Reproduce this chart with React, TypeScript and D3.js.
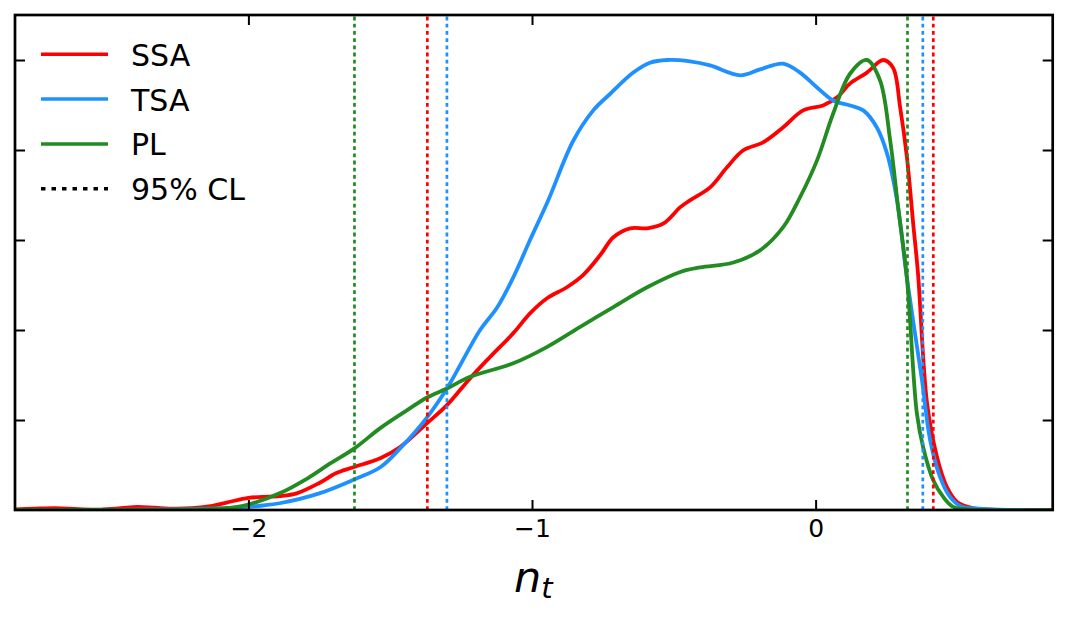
import { useEffect, useRef } from "react";
import * as d3 from "d3";

// SSA posterior (red)
const ssaX = [-2.83, -2.75, -2.68, -2.6, -2.52, -2.45, -2.39, -2.33, -2.26, -2.2, -2.14, -2.08, -2.0, -1.95, -1.89, -1.83, -1.75, -1.69, -1.63, -1.535, -1.465, -1.37, -1.3, -1.218, -1.148, -1.066, -1.007, -0.948, -0.877, -0.82, -0.76, -0.713, -0.654, -0.594, -0.536, -0.477, -0.443, -0.372, -0.313, -0.256, -0.185, -0.115, -0.044, 0.026, 0.076, 0.122, 0.181, 0.238, 0.273, 0.298, 0.322, 0.344, 0.361, 0.393, 0.428, 0.463, 0.499, 0.55, 0.62, 0.84];
const ssaY = [0.001, 0.003, 0.004, 0.002, 0.001, 0.004, 0.007, 0.005, 0.003, 0.004, 0.008, 0.016, 0.027, 0.029, 0.031, 0.037, 0.06, 0.082, 0.095, 0.115, 0.14, 0.193, 0.233, 0.293, 0.34, 0.393, 0.437, 0.47, 0.495, 0.522, 0.566, 0.606, 0.626, 0.626, 0.637, 0.673, 0.688, 0.717, 0.761, 0.799, 0.817, 0.85, 0.888, 0.899, 0.917, 0.948, 0.972, 1.0, 0.983, 0.895, 0.784, 0.637, 0.526, 0.237, 0.118, 0.051, 0.018, 0.005, 0.001, 0];

// TSA posterior (blue)
const tsaX = [-2.83, -2.4, -2.2, -2.05, -1.95, -1.89, -1.75, -1.63, -1.535, -1.465, -1.37, -1.3, -1.183, -1.123, -1.066, -1.007, -0.943, -0.855, -0.784, -0.724, -0.643, -0.584, -0.524, -0.443, -0.372, -0.266, -0.196, -0.115, -0.055, 0.005, 0.062, 0.122, 0.168, 0.216, 0.252, 0.287, 0.322, 0.375, 0.404, 0.439, 0.474, 0.51, 0.6, 0.84];
const tsaY = [0, 0.001, 0.002, 0.005, 0.01, 0.015, 0.037, 0.067, 0.095, 0.137, 0.206, 0.27, 0.4, 0.45, 0.517, 0.6, 0.688, 0.82, 0.888, 0.925, 0.972, 0.994, 1.0, 0.997, 0.988, 0.966, 0.979, 0.992, 0.972, 0.939, 0.91, 0.899, 0.888, 0.85, 0.792, 0.688, 0.515, 0.289, 0.155, 0.073, 0.029, 0.009, 0.002, 0];

// PL posterior (green)
const plX = [-2.83, -2.3, -2.15, -2.05, -2.0, -1.89, -1.79, -1.71, -1.626, -1.535, -1.44, -1.37, -1.3, -1.218, -1.066, -0.948, -0.83, -0.713, -0.594, -0.477, -0.407, -0.29, -0.196, -0.115, -0.055, 0.005, 0.062, 0.122, 0.181, 0.227, 0.263, 0.291, 0.322, 0.357, 0.379, 0.414, 0.45, 0.485, 0.55, 0.84];
const plY = [0, 0.0005, 0.002, 0.006, 0.012, 0.037, 0.071, 0.104, 0.137, 0.182, 0.222, 0.25, 0.27, 0.296, 0.326, 0.362, 0.407, 0.451, 0.495, 0.529, 0.539, 0.55, 0.577, 0.628, 0.695, 0.777, 0.881, 0.97, 1.0, 0.955, 0.821, 0.673, 0.515, 0.215, 0.14, 0.067, 0.029, 0.007, 0.001, 0];

// 95% CL bounds [lower, upper]
const ssaCL = [-1.369, 0.415];
const tsaCL = [-1.3, 0.378];
const plCL = [-1.626, 0.324];

const xTicks = [-2, -1, 0];
const yTicks = [0.2, 0.4, 0.6, 0.8, 1.0];

const series = [
  { name: "SSA", xs: ssaX, ys: ssaY, cl: ssaCL, color: "#ff0000" },
  { name: "TSA", xs: tsaX, ys: tsaY, cl: tsaCL, color: "#1e90ff" },
  { name: "PL", xs: plX, ys: plY, cl: plCL, color: "#228b22" },
];

const W = 1067;
const H = 617;
const margin = { left: 15, right: 14.3, top: 15, bottom: 107 };

export default function App() {
  const svgRef = useRef<SVGSVGElement>(null);

  useEffect(() => {
    const svg = d3.select(svgRef.current);
    svg.selectAll("*").remove();

    const x = d3
      .scaleLinear()
      .domain([-2.823, 0.836])
      .range([margin.left, W - margin.right]);
    const y = d3
      .scaleLinear()
      .domain([0, 1.1])
      .range([H - margin.bottom, margin.top]);

    const line = d3
      .line<[number, number]>()
      .x((d) => x(d[0]))
      .y((d) => Math.min(y(0), y(d[1])))
      .curve(d3.curveCatmullRom.alpha(0.5));

    // clip curves to the axes box
    svg
      .append("clipPath")
      .attr("id", "plotclip")
      .append("rect")
      .attr("x", margin.left)
      .attr("y", margin.top)
      .attr("width", W - margin.left - margin.right)
      .attr("height", H - margin.top - margin.bottom);

    const plot = svg.append("g").attr("clip-path", "url(#plotclip)");

    // curves
    series.forEach((s) => {
      const pts: [number, number][] = s.xs.map((v, i) => [v, s.ys[i]]);
      plot
        .append("path")
        .attr("d", line(pts)!)
        .attr("fill", "none")
        .attr("stroke", s.color)
        .attr("stroke-width", 3.8)
        .attr("stroke-linejoin", "round");
    });

    // 95% CL dotted lines
    series.forEach((s) => {
      s.cl.forEach((v) => {
        plot
          .append("line")
          .attr("x1", x(v))
          .attr("x2", x(v))
          .attr("y1", y.range()[0])
          .attr("y2", y.range()[1])
          .attr("stroke", s.color)
          .attr("stroke-width", 2.7)
          .attr("stroke-dasharray", "3.8 3.4");
      });
    });

    // axes (inward ticks)
    const fontFam = "'DejaVu Sans', sans-serif";
    const bottom = svg
      .append("g")
      .attr("transform", `translate(0,${y(0)})`)
      .call(
        d3.axisBottom(x).tickValues(xTicks).tickSize(-10).tickPadding(9).tickFormat(d3.format("d"))
      );
    bottom.selectAll("text").attr("font-size", 25).attr("font-family", fontFam).attr("fill", "#000");

    const top = svg
      .append("g")
      .attr("transform", `translate(0,${margin.top})`)
      .call(d3.axisTop(x).tickValues(xTicks).tickSize(-10).tickFormat(() => ""));
    const left = svg
      .append("g")
      .attr("transform", `translate(${margin.left},0)`)
      .call(d3.axisLeft(y).tickValues(yTicks).tickSize(-10).tickFormat(() => ""));
    const right = svg
      .append("g")
      .attr("transform", `translate(${W - margin.right},0)`)
      .call(d3.axisRight(y).tickValues(yTicks).tickSize(-10).tickFormat(() => ""));

    [bottom, top, left, right].forEach((g) => {
      g.select(".domain").remove();
      g.selectAll(".tick line").attr("stroke", "#000").attr("stroke-width", 2);
    });

    // frame
    svg
      .append("rect")
      .attr("x", margin.left)
      .attr("y", margin.top)
      .attr("width", W - margin.left - margin.right)
      .attr("height", H - margin.top - margin.bottom)
      .attr("fill", "none")
      .attr("stroke", "#000")
      .attr("stroke-width", 2.7);

    // x label n_t
    const xl = svg
      .append("text")
      .attr("x", 514)
      .attr("y", 592)
      .attr("font-family", fontFam)
      .attr("font-style", "italic")
      .attr("font-size", 43)
      .attr("fill", "#000");
    xl.append("tspan").text("n");
    xl.append("tspan").attr("font-size", 29).attr("dy", 6).text("t");

    // legend
    const legend = svg.append("g");
    const items = [
      ...series.map((s) => ({ name: s.name, color: s.color, dotted: false })),
      { name: "95% CL", color: "#000", dotted: true },
    ];
    items.forEach((it, i) => {
      const ly = 54.3 + i * 44.8;
      legend
        .append("line")
        .attr("x1", 41)
        .attr("x2", 108)
        .attr("y1", ly)
        .attr("y2", ly)
        .attr("stroke", it.color)
        .attr("stroke-width", 3.5)
        .attr("stroke-dasharray", it.dotted ? "4.5 6" : null);
      legend
        .append("text")
        .attr("x", 131)
        .attr("y", ly + 11.5)
        .attr("font-family", fontFam)
        .attr("font-size", 30)
        .attr("fill", "#000")
        .text(it.name);
    });
  }, []);

  return (
    <svg
      ref={svgRef}
      width={W}
      height={H}
      style={{ position: "absolute", left: 0, top: 0, background: "#fff" }}
    />
  );
}
